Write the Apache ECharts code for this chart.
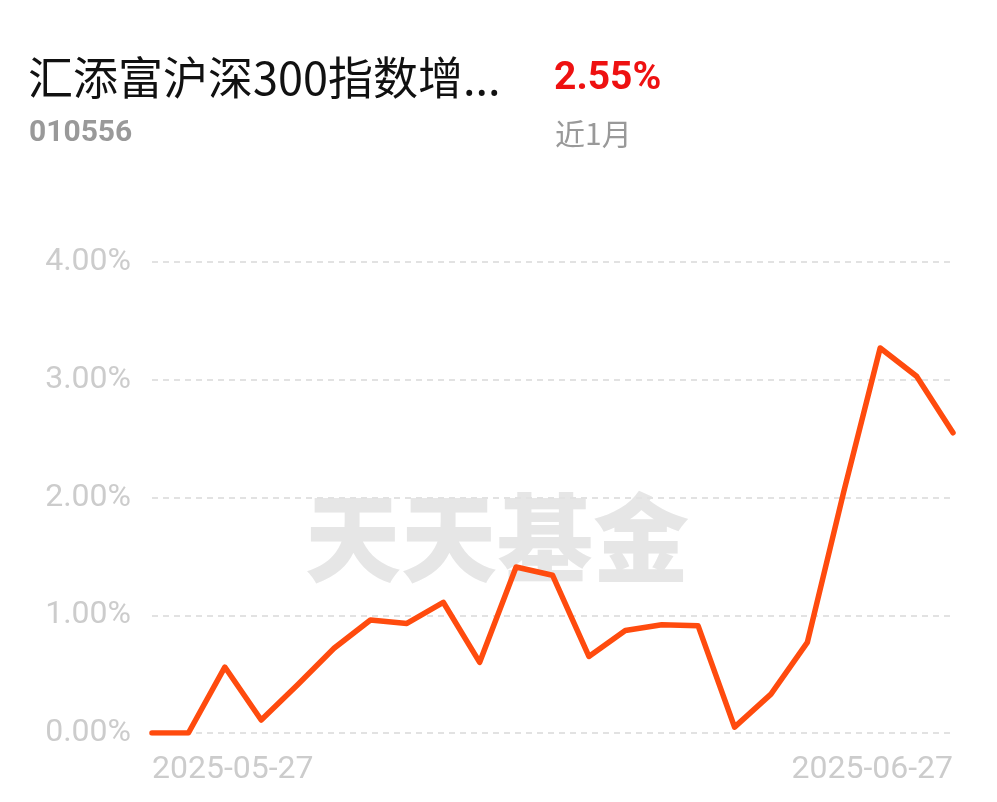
<!DOCTYPE html>
<html><head><meta charset="utf-8">
<script src="https://cdn.jsdelivr.net/npm/echarts@6/dist/echarts.min.js"></script>
<style>html,body{margin:0;padding:0;background:#fff}#c{width:997px;height:802px}</style>
</head><body><div id="c"></div>
<script>
const fundName = '汇添富沪深300指数增...';
const fundCode = '010556';
const periodReturn = '2.55%';
const periodLabel = '近1月';
const watermark = '天天基金';
const dates = ['2025-05-27','2025-05-28','2025-05-29','2025-05-30','2025-06-03','2025-06-04','2025-06-05','2025-06-06','2025-06-09','2025-06-10','2025-06-11','2025-06-12','2025-06-13','2025-06-16','2025-06-17','2025-06-18','2025-06-19','2025-06-20','2025-06-23','2025-06-24','2025-06-25','2025-06-26','2025-06-27'];
const values = [0, 0, 0.56, 0.11, 0.41, 0.72, 0.96, 0.93, 1.11, 0.60, 1.41, 1.34, 0.65, 0.87, 0.92, 0.91, 0.05, 0.33, 0.77, 2.05, 3.27, 3.03, 2.55];

const chart = echarts.init(document.getElementById('c'));
const last = dates.length - 1;
chart.setOption({
  animation: false,
  backgroundColor: '#fff',
  grid: { left: 152, right: 44, top: 262, bottom: 69, containLabel: false },
  graphic: [
    { type: 'text', z: 0, style: { text: fundName, x: 28, y: 78, font: '400 45px "Noto Sans CJK SC"', fill: '#111', verticalAlign: 'middle' } },
    { type: 'text', z: 0, style: { text: periodReturn, x: 554, y: 79, font: 'bold 39px Roboto', fill: '#ee1111', verticalAlign: 'middle' } },
    { type: 'text', z: 0, style: { text: fundCode, x: 29, y: 133, font: 'bold 30px Roboto', fill: '#999', verticalAlign: 'middle' } },
    { type: 'text', z: 0, style: { text: periodLabel, x: 555, y: 134, font: '400 30px "Noto Sans CJK SC"', fill: '#999', verticalAlign: 'middle' } },
    { type: 'text', z: -1, style: { text: watermark, x: 497, y: 538, font: '900 96px "Noto Sans CJK SC"', fill: '#e6e6e6', align: 'center', verticalAlign: 'middle' } }
  ],
  xAxis: {
    type: 'category',
    data: dates,
    boundaryGap: false,
    axisLine: { show: false },
    axisTick: { show: false },
    splitLine: { show: false },
    axisLabel: {
      interval: (i) => i === 0 || i === last,
      showMinLabel: true, showMaxLabel: true,
      alignMinLabel: 'left', alignMaxLabel: 'right',
      color: '#cccccc', fontSize: 32, fontFamily: 'Roboto', margin: 21
    }
  },
  yAxis: {
    type: 'value',
    min: 0, max: 4, interval: 1,
    axisLine: { show: false },
    axisTick: { show: false },
    axisLabel: { formatter: (v) => v.toFixed(2) + '%', color: '#cccccc', fontSize: 32, fontFamily: 'Roboto', margin: 21 },
    splitLine: { lineStyle: { color: '#e2e2e2', width: 2, type: [6, 5] } }
  },
  series: [{
    type: 'line',
    data: values,
    symbol: 'none',
    z: 3,
    lineStyle: { color: '#ff4b0e', width: 5.5, join: 'round', cap: 'round' }
  }]
});
</script></body></html>
